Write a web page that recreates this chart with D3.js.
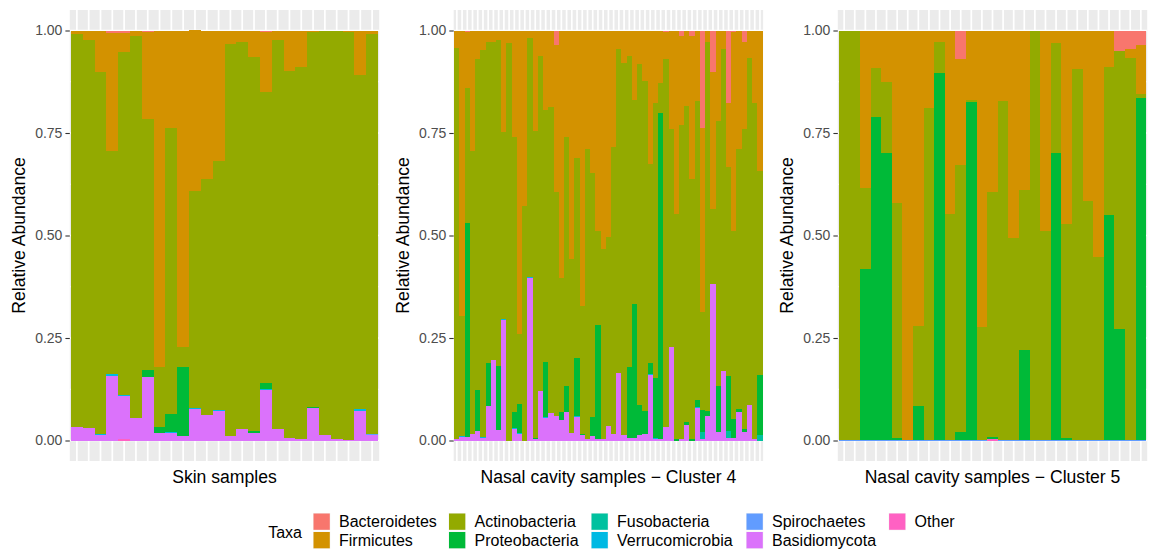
<!DOCTYPE html>
<html>
<head>
<meta charset="utf-8">
<script src="https://cdn.jsdelivr.net/npm/d3@7"></script>
<style>
  html, body { margin: 0; padding: 0; background: #fff; }
  svg { display: block; font-family: "Liberation Sans", Arial, sans-serif; }
</style>
</head>
<body>
<svg id="chart" width="1155" height="549"></svg>
<script>
// ---------- categories ----------
const taxa = ["Bacteroidetes","Firmicutes","Actinobacteria","Proteobacteria","Fusobacteria","Verrucomicrobia","Spirochaetes","Basidiomycota","Other"];
const taxaColors = ["#F8766D","#D39200","#93AA00","#00BA38","#00C19F","#00B9E3","#619CFF","#DB72FB","#FF61C3"];
const panelTitles = ["Skin samples","Nasal cavity samples \u2212 Cluster 4","Nasal cavity samples \u2212 Cluster 5"];
const yTicks = [0, 0.25, 0.5, 0.75, 1];
const yTickLabels = ["0.00","0.25","0.50","0.75","1.00"];

// ---------- Skin samples (26) ----------
const skinSamples = ["K01","K02","K03","K04","K05","K06","K07","K08","K09","K10","K11","K12","K13","K14","K15","K16","K17","K18","K19","K20","K21","K22","K23","K24","K25","K26"];
const skinBact   = [0,0,0,.007,.007,0,.004,0,0,0,0,0,0,0,0,0,.004,0,0,0,0,0,0,0,0,0];
const skinFirm   = [.009,.024,.101,.287,.046,.014,.212,.820,.237,.772,.392,.363,.318,.032,.027,.065,.145,.024,.099,.089,.004,.002,.002,.004,.109,.009];
const skinActino = [.958,.945,.882,.544,.836,.930,.612,.147,.698,.048,.529,.574,.607,.956,.946,.911,.710,.948,.894,.907,.914,.984,.994,.994,.815,.975];
const skinProteo = [0,0,0,0,0,0,.017,.015,.044,.169,0,0,0,0,0,.005,.015,0,0,0,.002,0,0,0,0,0];
const skinFuso   = [0,0,0,0,0,0,0,0,0,0,0,0,0,0,0,0,0,0,0,0,0,0,0,0,0,0];
const skinVerr   = [0,0,.003,.004,.002,0,0,0,.002,0,.002,0,.003,0,0,0,.003,0,0,0,0,0,0,0,.003,0];
const skinSpiro  = [0,0,0,0,0,0,0,0,0,0,0,0,0,0,0,0,0,0,0,0,0,0,0,0,0,.002];
const skinBasid  = [.033,.031,.014,.158,.106,.056,.155,.018,.019,.011,.078,.063,.072,.012,.027,.019,.123,.028,.007,.004,.080,.014,.004,.002,.073,.014];
const skinOther  = [0,0,0,0,.003,0,0,0,0,0,0,0,0,0,0,0,0,0,0,0,0,0,0,0,0,0];

// ---------- Nasal cavity, Cluster 4 (59) ----------
const c4Samples = ["A01","A02","A03","A04","A05","A06","A07","A08","A09","A10","A11","A12","A13","A14","A15","A16","A17","A18","A19","A20","A21","A22","A23","A24","A25","A26","A27","A28","A29","A30","A31","A32","A33","A34","A35","A36","A37","A38","A39","A40","A41","A42","A43","A44","A45","A46","A47","A48","A49","A50","A51","A52","A53","A54","A55","A56","A57","A58","A59"];
const c4Bact   = [0,0,.003,0,0,0,0,0,0,0, 0,0,0,0,0,0,0,0,0,.036, 0,0,0,0,0,0,.002,0,0,0, 0,0,0,0,0,0,0,0,.002,0, .003,0,0,.013,0,.013,0,.237,0,.101, 0,0,.177,.003,0,.028,0,0,.002];
const c4Firm   = [.042,.696,.137,.294,.070,.048,.028,.028,.023,.247, .030,.260,.741,.427,.018,.245,.062,.194,.187,.357, .603,.260,.557,.311,.671,.290,.346,.489,.533,.504, .284,.046,.079,.062,.169,.082,.123,.325,.175,.128, .067,.241,.447,.217,.183,.349,.172,.449,.028,.334, .221,.046,.156,.486,.289,.212,.066,.178,.341];
const c4Actino = [.955,.293,.330,.689,.807,.943,.783,.776,.795,.457, .970,.670,.170,.573,.583,.748,.817,.615,.745,.547, .327,.607,.425,.488,.312,.706,.594,.229,.463,.460, .699,.789,.908,.759,.497,.831,.805,.486,.671,.073, .897,.530,.550,.767,.772,.634,.729,.239,.900,.183, .646,.784,.510,.459,.635,.732,.847,.818,.497];
const c4Proteo = [0,0,.521,0,.100,0,.106,0,.156,0, 0,.040,.070,0,0,.003,0,.134,0,0, .020,.063,0,.142,.004,0,.046,.279,0,0, 0,0,0,.172,.327,.074,.056,.028,.146,.796, 0,0,.003,0,.007,.004,.017,.054,.012,0, .112,0,.134,.045,.006,.007,0,0,.147];
const c4Fuso   = [0,0,0,0,0,0,0,0,0,0, 0,0,0,0,0,0,0,0,0,0, 0,0,0,0,0,0,0,0,0,0, 0,0,0,0,0,0,0,0,0,0, 0,0,0,0,0,0,0,.017,0,0, 0,0,.016,0,0,0,0,0,.013];
const c4Verr   = [0,.002,0,0,0,.002,0,0,0,.002, 0,.002,.002,0,.002,0,0,.002,.002,0, 0,0,0,.002,0,0,0,0,0,0, 0,0,0,0,0,0,0,.002,.002,0, 0,.002,0,0,0,0,.002,0,0,0, 0,0,0,0,0,0,0,0,0];
const c4Spiro  = [0,0,0,0,0,0,0,0,0,0, 0,0,0,0,0,0,0,0,0,0, 0,0,0,0,0,0,0,0,0,0, 0,0,0,0,0,0,0,0,0,0, 0,0,0,0,0,0,0,0,0,0, 0,0,0,0,0,0,0,0,0];
const c4Basid  = [.003,.009,.009,.017,.023,.007,.083,.196,.026,.294, 0,.028,.017,0,.397,.004,.121,.055,.066,.060, .050,.070,.018,.057,.013,.004,.012,.003,.004,.036, .017,.165,.013,.007,.007,.013,.016,.159,.004,.003, .033,.227,0,.003,.038,0,.080,.004,.060,.382, .021,.170,.007,.007,.070,.021,.087,.004,0];
const c4Other  = [0,0,0,0,0,0,0,0,0,0, 0,0,0,0,0,0,0,0,0,0, 0,0,0,0,0,0,0,0,0,0, 0,0,0,0,0,0,0,0,0,0, 0,0,0,0,0,0,0,0,0,0, 0,0,0,0,0,0,0,0,0];

// ---------- Nasal cavity, Cluster 5 (29) ----------
const c5Samples = ["B01","B02","B03","B04","B05","B06","B07","B08","B09","B10","B11","B12","B13","B14","B15","B16","B17","B18","B19","B20","B21","B22","B23","B24","B25","B26","B27","B28","B29"];
const c5Bact   = [0,0,.002,0,0,0,0,0,0,0, 0,.070,0,0,0,0,0,0,0,0, 0,0,0,0,0,0,.049,.044,.036];
const c5Firm   = [0,.002,.381,.091,.125,.418,.998,.720,.188,.028, .447,.258,.170,.723,.393,.172,.505,.389,0,.489, .031,.471,.094,.416,.552,.089,0,.023,.118];
const c5Actino = [.998,.996,.199,.120,.174,.574,0,.196,.810,.076, .551,.651,.005,.275,.598,.826,.493,.390,.998,.509, .268,.523,.904,.582,.446,.361,.680,.931,.011];
const c5Proteo = [0,0,.416,.787,.699,.004,0,.082,0,.894, 0,.019,.823,0,.006,0,0,.219,0,0, .699,.004,0,0,0,.548,.269,0,.833];
const c5Fuso   = [0,0,0,0,0,0,0,0,0,0, 0,0,0,0,0,0,0,0,0,0, 0,0,0,0,0,0,0,0,0];
const c5Verr   = [0,0,0,0,0,0,0,0,0,0, 0,0,0,0,0,0,0,0,0,0, 0,0,0,0,0,0,0,0,0];
const c5Spiro  = [.002,.002,.002,.002,.002,.002,.002,.002,.002,.002, .002,.002,.002,.002,0,.002,.002,.002,.002,.002, .002,.002,.002,.002,.002,.002,.002,.002,.002];
const c5Basid  = [0,0,0,0,0,0,0,0,0,0, 0,0,0,0,0,0,0,0,0,0, 0,0,0,0,0,0,0,0,0];
const c5Other  = [0,0,0,0,0,0,0,0,0,0, 0,0,0,0,.003,0,0,0,0,0, 0,0,0,0,0,0,0,0,0];

// ---------- build tables ----------
function buildRows(samples, series) {
  return samples.map((s, i) => {
    const r = { sample: s };
    taxa.forEach((t, j) => { r[t] = series[j][i]; });
    return r;
  });
}
const panels = [
  { title: panelTitles[0], samples: skinSamples,
    rows: buildRows(skinSamples, [skinBact, skinFirm, skinActino, skinProteo, skinFuso, skinVerr, skinSpiro, skinBasid, skinOther]) },
  { title: panelTitles[1], samples: c4Samples,
    rows: buildRows(c4Samples, [c4Bact, c4Firm, c4Actino, c4Proteo, c4Fuso, c4Verr, c4Spiro, c4Basid, c4Other]) },
  { title: panelTitles[2], samples: c5Samples,
    rows: buildRows(c5Samples, [c5Bact, c5Firm, c5Actino, c5Proteo, c5Fuso, c5Verr, c5Spiro, c5Basid, c5Other]) }
];

// ---------- layout ----------
const svg = d3.select("#chart");
const panelLeft = [69.8, 453.7, 837.8];
const panelW = 309.4;
const panelTop = 10, panelBottom = 461;
const color = d3.scaleOrdinal().domain(taxa).range(taxaColors);
// ggplot stacks first level on top -> stack bottom-up in reverse order
const stackKeys = taxa.slice().reverse();
const stack = d3.stack().keys(stackKeys);

const y = d3.scaleLinear().domain([-0.05, 1.05]).range([panelBottom, panelTop]);

panels.forEach((p, pi) => {
  const x0 = panelLeft[pi];
  const x = d3.scaleBand().domain(p.samples).range([x0, x0 + panelW]).paddingInner(0).paddingOuter(0.1);
  const g = svg.append("g");

  // panel background
  g.append("rect").attr("x", x0).attr("y", panelTop).attr("width", panelW).attr("height", panelBottom - panelTop).attr("fill", "#EBEBEB");
  // minor horizontal grid
  g.selectAll(".minor").data([0.125, 0.375, 0.625, 0.875]).join("line")
    .attr("x1", x0).attr("x2", x0 + panelW).attr("y1", d => y(d)).attr("y2", d => y(d))
    .attr("stroke", "#fff").attr("stroke-width", 0.85);
  // major horizontal grid
  g.selectAll(".major").data(yTicks).join("line")
    .attr("x1", x0).attr("x2", x0 + panelW).attr("y1", d => y(d)).attr("y2", d => y(d))
    .attr("stroke", "#fff").attr("stroke-width", 1.7);
  // vertical grid at each category
  g.selectAll(".vgrid").data(p.samples).join("line")
    .attr("x1", d => x(d) + x.bandwidth() / 2).attr("x2", d => x(d) + x.bandwidth() / 2)
    .attr("y1", panelTop).attr("y2", panelBottom)
    .attr("stroke", "#fff").attr("stroke-width", 1.7);

  // stacked bars
  const series = stack(p.rows);
  g.selectAll(".layer").data(series).join("g")
    .attr("fill", d => color(d.key))
    .selectAll("rect").data(d => d).join("rect")
    .attr("x", d => x(d.data.sample))
    .attr("width", x.bandwidth())
    .attr("y", d => y(d[1]))
    .attr("height", d => Math.max(0, y(d[0]) - y(d[1])))
    .attr("shape-rendering", "crispEdges");

  // y axis
  const ax = g.append("g").attr("transform", `translate(${x0},0)`)
    .call(d3.axisLeft(y).tickValues(yTicks).tickFormat((d, i) => yTickLabels[i]).tickSize(4.4).tickPadding(3));
  ax.select(".domain").remove();
  ax.selectAll(".tick line").attr("stroke", "#333333").attr("stroke-width", 1.1);
  ax.selectAll(".tick text").attr("fill", "#4D4D4D").style("font-size", "14px")
    .style("font-family", '"Liberation Sans", Arial, sans-serif');

  // y title
  g.append("text")
    .attr("transform", `translate(${x0 - 44.5},${(y(0) + y(1)) / 2 + 0}) rotate(-90)`)
    .attr("text-anchor", "middle").attr("fill", "#000").style("font-size", "17.6px")
    .text("Relative Abundance");

  // x title
  g.append("text")
    .attr("x", x0 + panelW / 2).attr("y", 483)
    .attr("text-anchor", "middle").attr("fill", "#000").style("font-size", "17.6px")
    .text(p.title);
});

// ---------- legend ----------
const legend = svg.append("g");
legend.append("text").attr("x", 302).attr("y", 537.5).attr("text-anchor", "end")
  .attr("fill", "#000").style("font-size", "16px").text("Taxa");
const colX = [313, 448.5, 591, 746, 888.6];
const rowY = [513, 531.5];
const keySize = 17.3;
taxa.forEach((t, i) => {
  const c = Math.floor(i / 2), r = i % 2;
  const kx = colX[c], ky = rowY[r];
  legend.append("rect").attr("x", kx).attr("y", ky).attr("width", keySize).attr("height", keySize).attr("fill", "#F2F2F2");
  legend.append("rect").attr("x", kx + 0.5).attr("y", ky + 0.5).attr("width", keySize - 1).attr("height", keySize - 1).attr("fill", color(t));
  legend.append("text").attr("x", kx + 26).attr("y", ky + 14).attr("fill", "#000").style("font-size", "16px").text(t);
});
</script>
</body>
</html>
